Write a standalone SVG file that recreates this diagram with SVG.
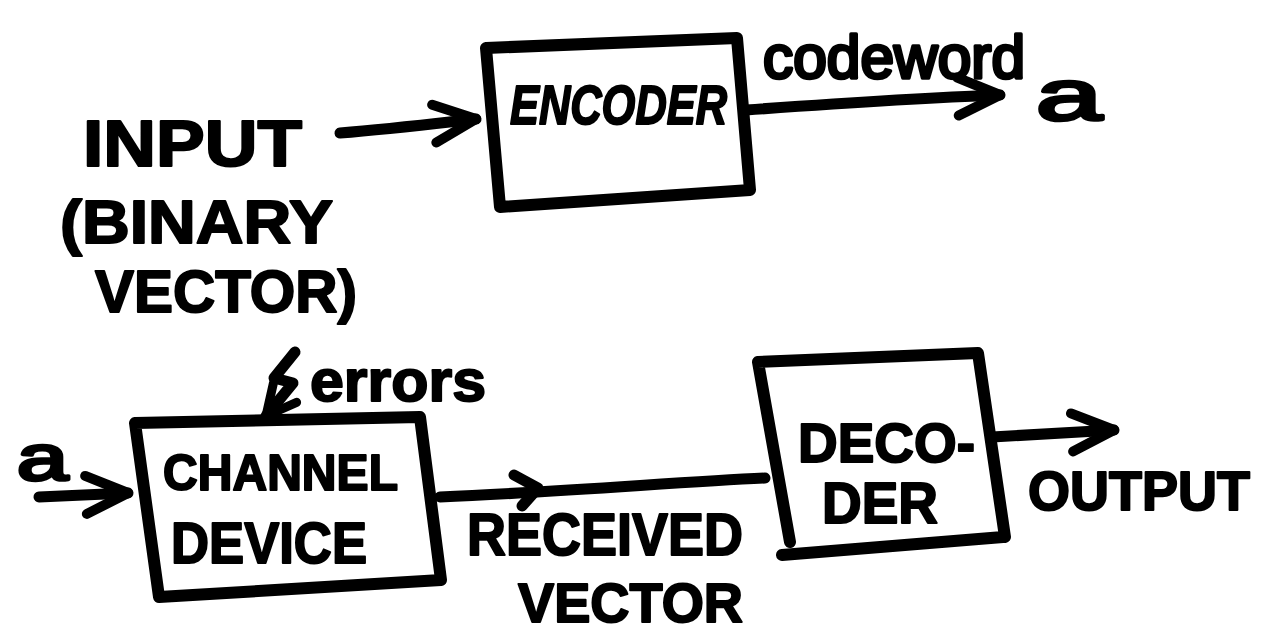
<svg xmlns="http://www.w3.org/2000/svg" width="1274" height="644" viewBox="0 0 1274 644">
  <style>
    .box { fill: none; stroke: #000; stroke-width: 12; stroke-linejoin: round; stroke-linecap: round; }
    .wire { fill: none; stroke: #000; stroke-width: 11; stroke-linecap: round; stroke-linejoin: round; }
    .t { font-family: "Liberation Sans", Arial, sans-serif; font-weight: bold; fill: #000; stroke: #000; stroke-width: 2; stroke-linejoin: round; }
    .it { font-style: italic; }
    .lc { font-weight: normal; stroke-width: 3.5; }
  </style>
  <defs>
    <marker id="head" viewBox="0 0 56 50" refX="50" refY="25" markerWidth="56" markerHeight="50" markerUnits="userSpaceOnUse" orient="auto">
      <path d="M8,6 L50,25 L8,44" fill="none" stroke="#000" stroke-width="10" stroke-linecap="round" stroke-linejoin="round"/>
    </marker>
    <marker id="headsm" viewBox="0 0 40 40" refX="36" refY="20" markerWidth="40" markerHeight="40" markerUnits="userSpaceOnUse" orient="auto">
      <path d="M6,5 L36,20 L6,35" fill="none" stroke="#000" stroke-width="9" stroke-linecap="round" stroke-linejoin="round"/>
    </marker>
  </defs>
  <rect width="1274" height="644" fill="#fff"/>

  <g id="connectors">
    <path class="wire" d="M340,133 C390,129 440,123 476,119" marker-end="url(#head)"/>
    <path class="wire" d="M746,110 C830,104 920,98 1000,95" marker-end="url(#head)"/>
    <path class="wire" d="M295,352 L274,378 L293,383 L266,416" stroke-width="8" marker-end="url(#headsm)"/>
    <path class="wire" d="M39,497 L128,493" marker-end="url(#head)"/>
    <path class="wire" d="M440,497 C560,492 680,482 765,478"/>
    <path class="wire" d="M514,475 L538,488 L522,506" stroke-width="7"/>
    <path class="wire" d="M992,437 L1114,430" marker-end="url(#head)"/>
  </g>

  <g id="encoder">
    <path class="box" d="M486,48 L737,38 L750,190 L500,207 Z"/>
    <text class="t it" x="510" y="124" font-size="56" textLength="217" lengthAdjust="spacingAndGlyphs">ENCODER</text>
  </g>

  <g id="channel">
    <path class="box" d="M135,423 L420,417 L441,580 L159,597 Z"/>
    <text class="t" x="163" y="490" font-size="50" textLength="235" lengthAdjust="spacingAndGlyphs">CHANNEL</text>
    <text class="t" x="171" y="563" font-size="58" textLength="196" lengthAdjust="spacingAndGlyphs">DEVICE</text>
  </g>

  <g id="decoder">
    <path class="box" d="M790,542 L758,362 L978,353 L1005,537 M782,555 L1003,537"/>
    <text class="t" x="798" y="462" font-size="56" textLength="177" lengthAdjust="spacingAndGlyphs">DECO-</text>
    <text class="t" x="822" y="523" font-size="57" textLength="116" lengthAdjust="spacingAndGlyphs">DER</text>
  </g>

  <g id="labels">
    <text class="t" x="83" y="166" font-size="64" textLength="219" lengthAdjust="spacingAndGlyphs">INPUT</text>
    <text class="t" x="60" y="243" font-size="62" textLength="273" lengthAdjust="spacingAndGlyphs">(BINARY</text>
    <text class="t" x="95" y="312" font-size="60" textLength="262" lengthAdjust="spacingAndGlyphs">VECTOR)</text>
    <text class="t lc" x="763" y="78" font-size="61" textLength="262" lengthAdjust="spacingAndGlyphs">codeword</text>
    <text class="t lc" x="1036" y="120" font-size="72" textLength="66" lengthAdjust="spacingAndGlyphs">a</text>
    <text class="t" x="310" y="401" font-size="60" textLength="176" lengthAdjust="spacingAndGlyphs">errors</text>
    <text class="t lc" x="17" y="480" font-size="64" textLength="51" lengthAdjust="spacingAndGlyphs">a</text>
    <text class="t" x="467" y="555" font-size="60" textLength="276" lengthAdjust="spacingAndGlyphs">RECEIVED</text>
    <text class="t" x="518" y="622" font-size="56" textLength="225" lengthAdjust="spacingAndGlyphs">VECTOR</text>
    <text class="t" x="1028" y="510" font-size="55" textLength="222" lengthAdjust="spacingAndGlyphs">OUTPUT</text>
  </g>
</svg>
